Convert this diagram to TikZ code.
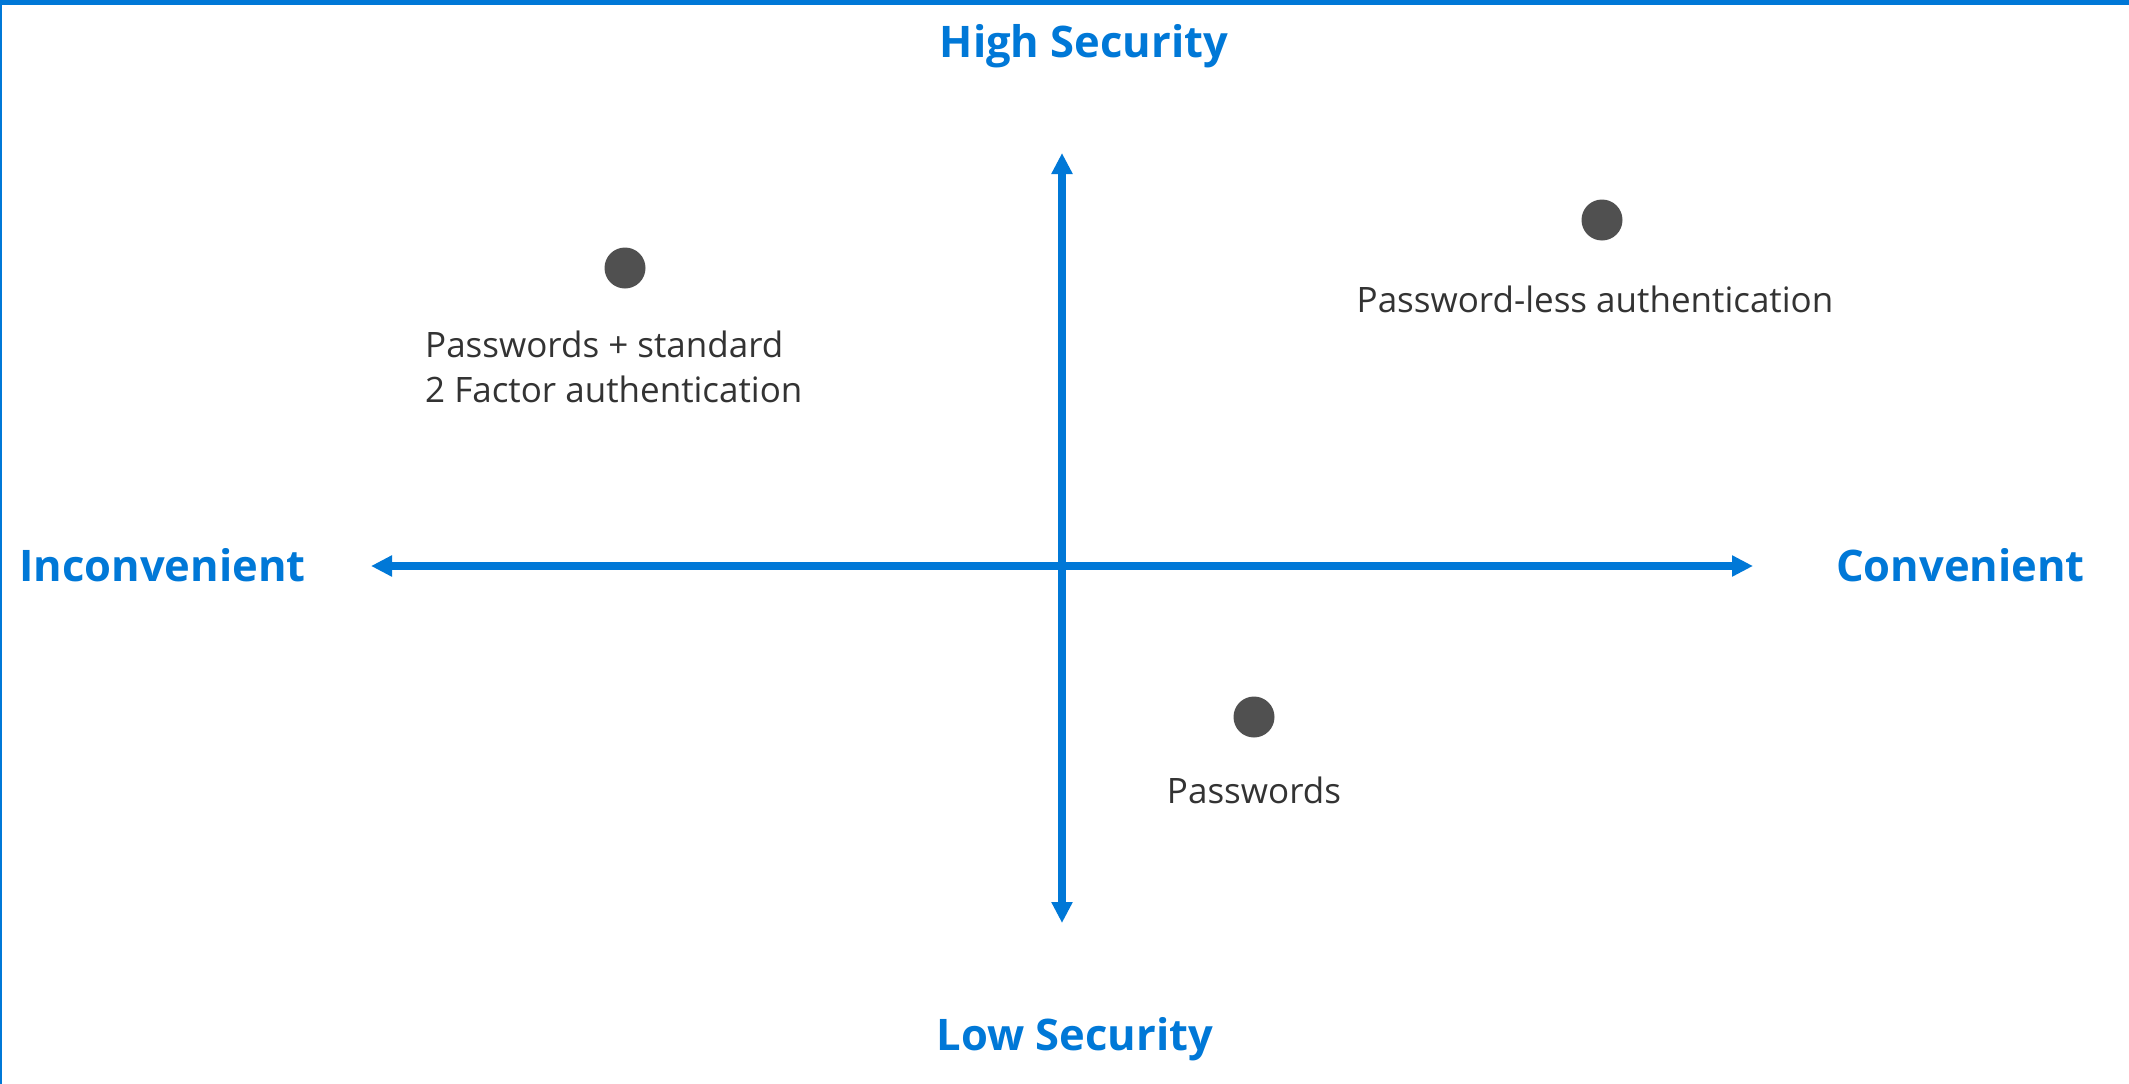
\documentclass[tikz,border=0pt]{standalone}
\usepackage{fontspec}
\setmainfont{Open Sans}
\usetikzlibrary{arrows.meta}
\definecolor{msblue}{HTML}{0078D7}
\definecolor{dotgray}{HTML}{505050}
\definecolor{txtgray}{HTML}{333333}
\begin{document}
\begin{tikzpicture}[x=1pt,y=-1pt,
  axis/.style={draw=msblue,line width=8pt,{Triangle[length=21pt,width=20pt]}-{Triangle[length=21pt,width=20pt]}},
  headlbl/.style={text=msblue,font=\fontsize{43.5}{52}\selectfont\bfseries,inner sep=0pt},
  itemlbl/.style={text=txtgray,font=\fontsize{35}{45}\selectfont,inner sep=0pt},
  dot/.style={circle,fill=dotgray,minimum size=41pt,inner sep=0pt}]
\useasboundingbox (0,0) rectangle (2129,1084);
\fill[white] (0,0) rectangle (2129,1084);
\fill[msblue] (0,0) rectangle (2129,5);
\fill[msblue] (0,0) rectangle (2,1084);
% axis end points
\coordinate (top) at (1062,153);
\coordinate (bot) at (1062,923);
\coordinate (lft) at (371,566);
\coordinate (rgt) at (1753,566);
\draw[axis] (bot) -- (top);
\draw[axis] (lft) -- (rgt);
% headings
\node[headlbl,anchor=base] (hs) at (1084,57) {High Security};
\node[headlbl,anchor=base] (ls) at (1075,1050) {Low Security};
\node[headlbl,anchor=base west] (inc) at (19,581) {Inconvenient};
\node[headlbl,anchor=base east] (con) at (2085,581) {Convenient};
% dots
\node[dot] (d1) at (625,268) {};
\node[dot] (d2) at (1602,220) {};
\node[dot] (d3) at (1254,717) {};
% item labels
\node[itemlbl,anchor=base west,align=left] (t1) at (425,402) {Passwords + standard\\2 Factor authentication};
\node[itemlbl,anchor=base] (t2) at (1595,312) {Password-less authentication};
\node[itemlbl,anchor=base] (t3) at (1254,803) {Passwords};
\end{tikzpicture}
\end{document}
